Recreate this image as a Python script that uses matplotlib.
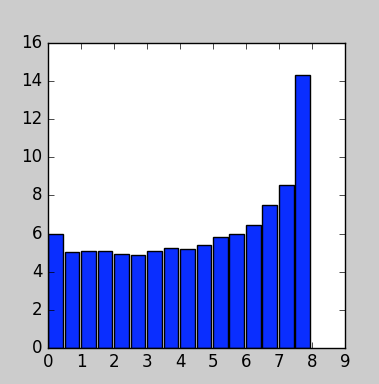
import numpy as np
import matplotlib
matplotlib.use("Agg")
import matplotlib.pyplot as plt

plt.style.use("classic")

# left edges of the bins and heights
lefts = [0.0, 0.5, 1.0, 1.5, 2.0, 2.5, 3.0, 3.5, 4.0, 4.5, 5.0, 5.5, 6.0, 6.5, 7.0, 7.5]
heights = [5.98, 5.03, 5.06, 5.06, 4.95, 4.9, 5.06, 5.24, 5.2, 5.4, 5.84, 5.97, 6.45, 7.48, 8.55, 14.3]

fig = plt.figure(figsize=(3.79, 3.84), dpi=100, facecolor="#cccccc")
ax = fig.add_axes([0.127, 0.094, 0.783, 0.794])
ax.bar(lefts, heights, width=0.45, align="edge", color="#0a2eff", edgecolor="black", linewidth=1)
ax.set_xlim(0, 9)
ax.set_ylim(0, 16)
ax.set_xticks(range(10))
ax.set_yticks(range(0, 17, 2))
fig.savefig("out.png", dpi=100, facecolor=fig.get_facecolor())
